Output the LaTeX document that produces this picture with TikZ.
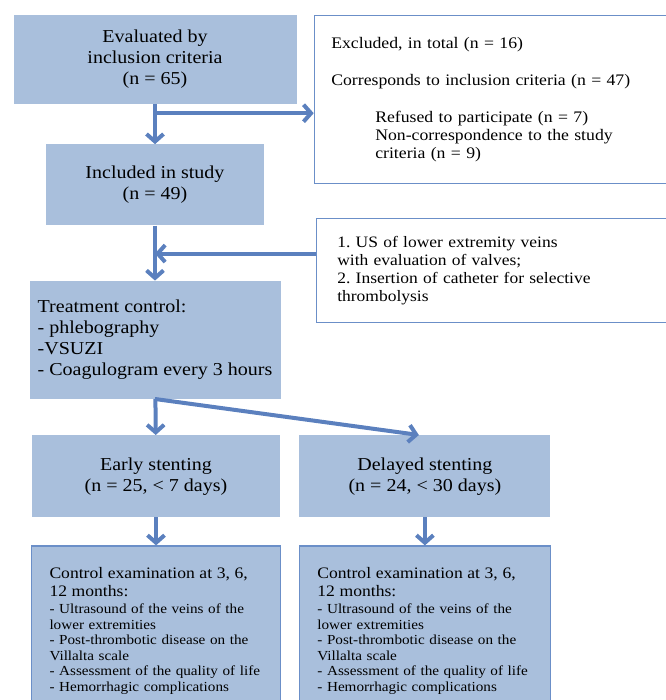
\documentclass[tikz,border=0pt]{standalone}
\usepackage{fontspec}
\setmainfont{Liberation Serif}[FakeStretch=1.1]
\usepackage{xcolor}
\usepackage{tikz}
\usetikzlibrary{shapes,arrows.meta,positioning,calc}

\definecolor{boxblue}{HTML}{A9BFDC}
\definecolor{arrowblue}{HTML}{5B80BE}
\definecolor{lineblue}{HTML}{6B8FC8}
\frenchspacing

\begin{document}
\begin{tikzpicture}[
    x=1pt, y=1pt,
    stage/.style={rectangle, fill=boxblue, inner sep=0pt, align=center, font=\fontsize{18.2}{21}\selectfont},
    note/.style={rectangle, draw=lineblue, fill=white, line width=1.2pt, align=left, inner ysep=0pt},
    followup/.style={rectangle, draw=lineblue, fill=boxblue, line width=1.2pt, align=left, inner xsep=18pt, inner ysep=0pt, font=\fontsize{13.8}{15.5}\selectfont},
    arrow/.style={-{Straight Barb[length=7.5pt,width=17pt]}, line width=4pt, draw=arrowblue}
]
    \useasboundingbox (0,0) rectangle (665,700);

    % Patient flow boxes
    \node[stage, minimum width=283pt, minimum height=89pt] (evaluated) at (155,640.5) {Evaluated by\\inclusion criteria\\(n = 65)};
    \node[stage, minimum width=218pt, minimum height=81pt, below=40pt of evaluated] (included) {Included in study\\(n = 49)};
    \node[stage, minimum width=251pt, minimum height=118pt, below=55pt of included, align=left] (control) {Treatment control:\\- phlebography\\-VSUZI\\- Coagulogram every 3 hours};

    % Stenting groups
    \node[stage, minimum width=248pt, minimum height=82pt, below=36pt of control, xshift=1pt] (early) {Early stenting\\(n = 25, < 7 days)};
    \node[stage, minimum width=251pt, minimum height=82pt, right=19pt of early] (delayed) {Delayed stenting\\(n = 24, < 30 days)};

    % Follow-up boxes
    \node[followup, text width=213pt, minimum height=169pt, below=28pt of early] (followearly) {\fontsize{16}{18}\selectfont Control examination at 3, 6,\\[0.5pt]12 months:\\[1.5pt]\fontsize{13.8}{15.5}\selectfont - Ultrasound of the veins of the\\lower extremities\\- Post-thrombotic disease on the\\Villalta scale\\- Assessment of the quality of life\\- Hemorrhagic complications};
    \node[followup, text width=215pt, minimum height=169pt, below=28pt of delayed] (followdelayed) {\fontsize{16}{18}\selectfont Control examination at 3, 6,\\[0.5pt]12 months:\\[1.5pt]\fontsize{13.8}{15.5}\selectfont - Ultrasound of the veins of the\\lower extremities\\- Post-thrombotic disease on the\\Villalta scale\\- Assessment of the quality of life\\- Hemorrhagic complications};

    % Side notes
    \node[note, text width=336pt, inner xsep=17pt, minimum height=168pt, right=17pt of evaluated.north east, anchor=north west, font=\fontsize{16.1}{18}\selectfont] (excluded) {Excluded, in total (n = 16)\\[19pt]Corresponds to inclusion criteria (n = 47)\\[19pt]\hspace*{44pt}Refused to participate (n = 7)\\\hspace*{44pt}Non-correspondence to the study\\\hspace*{44pt}criteria (n = 9)};
    \node[note, text width=330pt, inner xsep=21pt, minimum height=104pt, below=34pt of excluded.south west, anchor=north west, xshift=2pt, font=\fontsize{15.9}{18.3}\selectfont] (usnote) {1. US of lower extremity veins\\with evaluation of valves;\\2. Insertion of catheter for selective\\thrombolysis};

    % Arrows
    \coordinate[below=9pt of evaluated.south] (forkexcl);
    \draw[arrow] (evaluated) -- (included);
    \draw[arrow] (forkexcl) -- (forkexcl -| excluded.west);
    \draw[arrow] (included) -- (control);
    \draw[arrow] ([yshift=17pt]usnote.west) -- ([yshift=17pt]usnote.west -| included.south);
    \draw[arrow] (control) -- (early);
    \draw[arrow] (control.south) -- ([xshift=-6pt]delayed.north);
    \draw[arrow] (early) -- (followearly);
    \draw[arrow] (delayed) -- (followdelayed);
\end{tikzpicture}
\end{document}
